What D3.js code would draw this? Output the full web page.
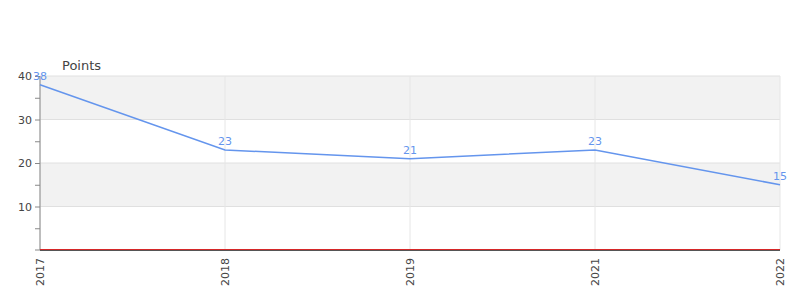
<!DOCTYPE html>
<html><head><meta charset="utf-8">
<script src="https://cdn.jsdelivr.net/npm/d3@7"></script>
<style>body{margin:0;background:#fff}svg{display:block;font-family:"DejaVu Sans",sans-serif}</style>
</head><body>
<svg id="c" width="800" height="300"></svg>
<script>
const categories = ["2017","2018","2019","2021","2022"];
const values = [38, 23, 21, 23, 15];
const yTicks = [10, 20, 30, 40];
const yTitle = "Points";

const svg = d3.select("#c");
const m = {l:40, r:20, t:76, b:50};
const W = 800, H = 300;
const x = d3.scalePoint().domain(categories).range([m.l, W - m.r]);
const y = d3.scaleLinear().domain([0, 40]).range([H - m.b, m.t]);

// bands
const bands = [[30,40],[10,20]];
svg.selectAll("rect.band").data(bands).enter().append("rect")
  .attr("x", m.l).attr("width", W - m.r - m.l)
  .attr("y", d => y(d[1])).attr("height", d => y(d[0]) - y(d[1]))
  .attr("fill", "#f2f2f2");

// horizontal grid
svg.selectAll("line.hg").data(yTicks).enter().append("line")
  .attr("x1", m.l).attr("x2", W - m.r)
  .attr("y1", d => y(d)).attr("y2", d => y(d))
  .attr("stroke", "#e0e0e0");

// vertical grid
svg.selectAll("line.vg").data(categories).enter().append("line")
  .attr("x1", d => x(d)).attr("x2", d => x(d))
  .attr("y1", m.t).attr("y2", H - m.b)
  .attr("stroke", "#e6e6e6");

// y axis
const yAxis = d3.axisLeft(y).tickValues([5,10,15,20,25,30,35,40])
  .tickSize(5).tickFormat(d => d % 10 === 0 ? d : "");
const ya = svg.append("g").attr("transform", `translate(${m.l},0)`).call(yAxis);
ya.select(".domain").attr("stroke", "#888").attr("d", `M-0,${y(0)}V${y(40)}`);
ya.selectAll(".tick line").attr("stroke", "#888");
ya.selectAll(".tick text").attr("fill", "#444").attr("font-size", 11).attr("x", -8)
  .attr("font-family", "DejaVu Sans, sans-serif");
ya.append("line").attr("x1", -5).attr("x2", 0).attr("y1", y(0)).attr("y2", y(0)).attr("stroke", "#888");

// zero line
svg.append("line").attr("x1", m.l).attr("x2", W - m.r)
  .attr("y1", y(0) - 0.5).attr("y2", y(0) - 0.5).attr("stroke", "#d62728").attr("stroke-width", 1);

// x axis
const xAxis = d3.axisBottom(x).tickSize(0);
const xa = svg.append("g").attr("transform", `translate(0,${y(0)})`).call(xAxis);
xa.select(".domain").attr("stroke", "#555").attr("d", `M${m.l},0.5H${W - m.r}`);
xa.selectAll(".tick text")
  .attr("transform", "rotate(-90)")
  .attr("text-anchor", "end")
  .attr("x", -8).attr("y", 0).attr("dy", "0.35em")
  .attr("fill", "#444").attr("font-size", 11)
  .attr("font-family", "DejaVu Sans, sans-serif");

// line
const data = categories.map((c, i) => ({c, v: values[i]}));
svg.append("path").datum(data)
  .attr("fill", "none").attr("stroke", "#6495ed").attr("stroke-width", 1.5)
  .attr("d", d3.line().x(d => x(d.c)).y(d => y(d.v)));

// labels
svg.selectAll("text.lbl").data(data).enter().append("text")
  .attr("x", d => x(d.c)).attr("y", d => y(d.v) - 5)
  .attr("text-anchor", "middle").attr("fill", "#6495ed").attr("font-size", 11)
  .text(d => d.v);

// title
svg.append("text").attr("x", 62).attr("y", 70).attr("fill", "#444")
  .attr("font-size", 13).text(yTitle);
</script>
</body></html>
